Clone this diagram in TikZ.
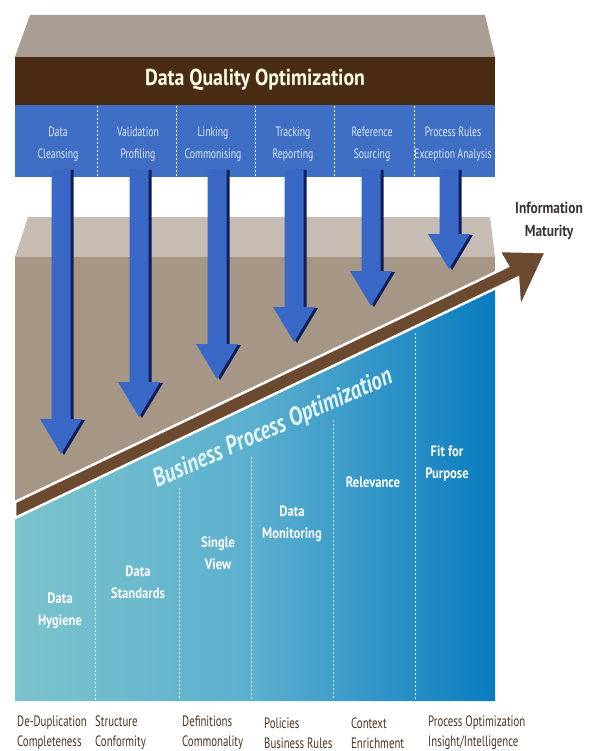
\documentclass[tikz,border=0pt]{standalone}
\usepackage{fontspec}
\setmainfont{PT Sans}
\newfontfamily\cndt[FakeStretch=0.86]{PT Sans}
\newfontfamily\cnd[FakeStretch=0.84]{PT Sans}
\newfontfamily\cndb[FakeStretch=0.81]{PT Sans}
\newfontfamily\cndx[FakeStretch=0.72]{PT Sans}
\definecolor{roof}{HTML}{AA9D93}
\definecolor{band}{HTML}{4A2C14}
\definecolor{bblue}{HTML}{3F6FC4}
\definecolor{ablue}{HTML}{3A68C6}
\definecolor{navy}{HTML}{101E58}
\definecolor{light}{HTML}{C6BCB3}
\definecolor{body}{HTML}{A69686}
\definecolor{strip}{HTML}{6B4A30}
\definecolor{tealL}{HTML}{7CC4CC}
\definecolor{tealM}{HTML}{5BAFCF}
\definecolor{tealR}{HTML}{0A7CC0}
\definecolor{btxt}{HTML}{4E3521}
\definecolor{itxt}{HTML}{3D3533}
\definecolor{utxt}{HTML}{DFE6F6}
\definecolor{bpotxt}{HTML}{E2F5F7}
\tikzset{
  divline/.style={white, line width=0.8pt, dash pattern=on 2pt off 2pt},
  uplabel/.style={text=utxt, align=center, font={\cndx\fontsize{13.5}{22}\selectfont}},
  lowlabel/.style={text=white, align=center, font={\cnd\bfseries\fontsize{15}{22}\selectfont}},
  botlabel/.style={text=btxt, align=left, anchor=west, font={\cndx\fontsize{15}{20}\selectfont}},
}
\newcommand{\dqarrow}[2]{% center x, tip y
  \fill[navy] ({#1-9.5+3},170) -- ({#1+9.5+3},170) -- ({#1+9.5+3},{#2-35+1}) -- ({#1+21+3},{#2-35+1}) -- ({#1+3},{#2+1}) -- ({#1-21+3},{#2-35+1}) -- ({#1-9.5+3},{#2-35+1}) -- cycle;
  \fill[ablue] ({#1-9.5},170) -- ({#1+9.5},170) -- ({#1+9.5},{#2-35}) -- ({#1+21},{#2-35}) -- (#1,#2) -- ({#1-21},{#2-35}) -- ({#1-9.5},{#2-35}) -- cycle;
}
\begin{document}
\begin{tikzpicture}[x=1pt,y=-1pt]
\useasboundingbox (0,0) rectangle (592,751);
\fill[white] (0,0) rectangle (592,751);
% roof
\fill[roof] (30,15) -- (485,15) -- (495,57) -- (15,57) -- cycle;
% brown band
\fill[band] (15,57) rectangle (495,105);
\node[text=white!92!yellow, font={\cndt\bfseries\fontsize{23}{25}\selectfont}] (title) at (255,80) {Data Quality Optimization};
% blue band
\fill[bblue] (15,105) rectangle (495,177);
\foreach \x in {97,176,255,334,414} \draw[divline] (\x,106) -- (\x,176);
\node[uplabel] (u1) at (58,144) {Data\\Cleansing};
\node[uplabel] (u2) at (138,144) {Validation\\Profiling};
\node[uplabel] (u3) at (213,144) {Linking\\Commonising};
\node[uplabel] (u4) at (293,144) {Tracking\\Reporting};
\node[uplabel] (u5) at (372,144) {Reference\\Sourcing};
\node[uplabel] (u6) at (453,144) {Process Rules\\Exception Analysis};
% light band and body
\fill[light] (28,217) -- (490,217) -- (495,257) -- (15,257) -- cycle;
\fill[body] (15,257) rectangle (495,520);
% blue gradient region
\shade[left color=tealL, right color=tealR, middle color=tealM] (15,518) -- (495,288.6) -- (495,701) -- (15,701) -- cycle;
\draw[divline] (95,490) -- (95,700);
\draw[divline] (179,488) -- (179,700);
\draw[divline] (251,457) -- (251,700);
\draw[divline] (333,420) -- (333,700);
\draw[divline] (415,333) -- (415,700);
% blue arrows
\dqarrow{61}{454}
\dqarrow{139}{417}
\dqarrow{217}{379}
\dqarrow{294}{342}
\dqarrow{371}{306}
\dqarrow{449}{269}
% maturity arrow
\draw[white, line width=2.5pt, fill=strip, line join=miter] (15,502) -- (508,266.3) -- (499,251) -- (546,252) -- (520,308) -- (518,277.6) -- (15,518) -- cycle;
\fill[white] (12,495) rectangle (14.9,525);
\node[text=itxt, align=center, font={\cnd\bfseries\fontsize{16}{23}\selectfont}] (info) at (549,221) {Information\\Maturity};
% rotated label
\node[text=bpotxt, rotate=24, inner sep=0pt, font={\cndb\bfseries\itshape\fontsize{26}{28}\selectfont}] (bpo) at (273,429) {Business Process Optimization};
% lower labels
\node[lowlabel] (l1) at (60,611) {Data\\Hygiene};
\node[lowlabel] (l2) at (138,582) {Data\\Standards};
\node[lowlabel] (l3) at (218,553) {Single\\View};
\node[lowlabel] (l4) at (292,524) {Data\\Monitoring};
\node[lowlabel] (l5) at (373,482) {Relevance};
\node[lowlabel] (l6) at (447,464) {Fit for\\Purpose};
% bottom labels
\node[botlabel, inner sep=1pt] (b1) at (16,733) {De-Duplication\\Completeness};
\node[botlabel, inner sep=1pt] (b2) at (94,733) {Structure\\Conformity};
\node[botlabel, inner sep=1pt] (b3) at (181,733) {Definitions\\Commonality};
\node[botlabel, inner sep=1pt] (b4) at (263,733) {Policies\\Business Rules};
\node[botlabel, inner sep=1pt] (b5) at (350,733) {Context\\Enrichment};
\node[botlabel, inner sep=1pt] (b6) at (427,733) {Process Optimization\\Insight/Intelligence};
\end{tikzpicture}
\end{document}
